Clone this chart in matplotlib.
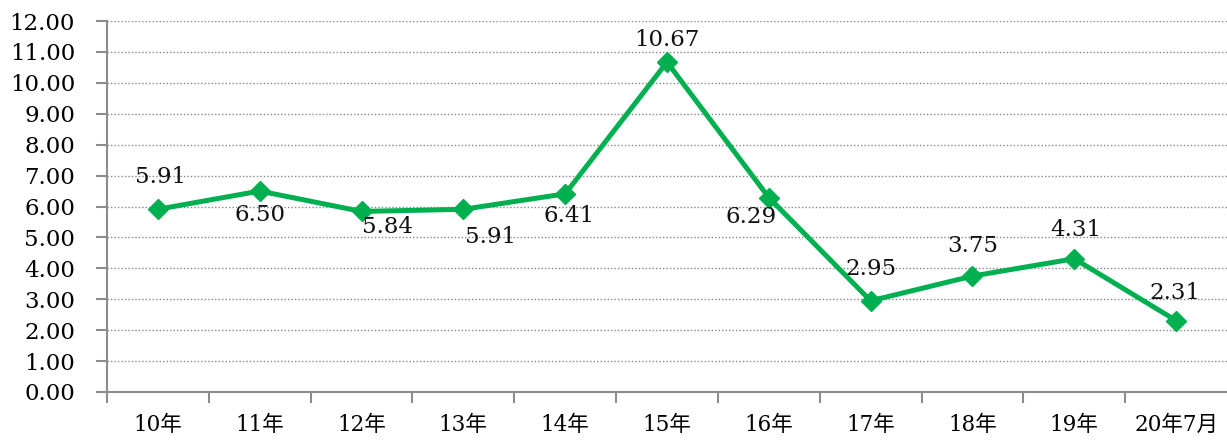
import matplotlib
matplotlib.use("Agg")
import matplotlib.pyplot as plt
from matplotlib.ticker import FixedLocator, FormatStrFormatter

categories = ["10年", "11年", "12年", "13年", "14年", "15年", "16年", "17年", "18年", "19年", "20年7月"]
values = [5.91, 6.50, 5.84, 5.91, 6.41, 10.67, 6.29, 2.95, 3.75, 4.31, 2.31]
# label offsets in pixels (dx, dy) relative to each point
label_offsets = [(3, 32), (0, -24), (26, -16), (27, -28), (4, -22), (0, 22), (-18, -19), (0, 32), (0, 30), (1, 29), (-1, 28)]

plt.rcParams["font.family"] = ["DejaVu Serif", "Noto Sans CJK JP"]
green = "#00B050"
axis_gray = "#8c8c8c"

fig = plt.figure(figsize=(12.27, 4.42), dpi=100)
ax = fig.add_axes([107 / 1227, 1 - 392 / 442, 1120 / 1227, 371 / 442])

x = list(range(len(categories)))
ax.plot(x, values, color=green, lw=3.6, marker="D", markersize=10.5, zorder=3)

for xi, val, (dx, dy) in zip(x, values, label_offsets):
    ax.annotate(f"{val:.2f}", (xi, val), xytext=(dx, dy), textcoords="offset pixels",
                ha="center", va="center", fontsize=16.5, color="#111111")

ax.set_xlim(-0.5, len(categories) - 0.5)
ax.set_ylim(0, 12)
ax.set_yticks(range(0, 13))
ax.yaxis.set_major_formatter(FormatStrFormatter("%.2f"))
ax.grid(axis="y", linestyle=(0, (1, 1.5)), color="#888888", lw=1)
ax.set_axisbelow(True)

ax.set_xticks(x)
ax.set_xticklabels(categories)
ax.xaxis.set_minor_locator(FixedLocator([i - 0.5 for i in range(len(categories))]))
ax.tick_params(axis="x", which="major", length=0, pad=16, labelsize=15.5)
ax.tick_params(axis="x", which="minor", length=8, width=1.5, color=axis_gray)
ax.tick_params(axis="y", length=8, width=1.5, color=axis_gray, labelsize=16.5, pad=15)

for side in ["top", "right"]:
    ax.spines[side].set_visible(False)
for side in ["left", "bottom"]:
    ax.spines[side].set_color(axis_gray)
    ax.spines[side].set_linewidth(1.5)

fig.savefig("out.png", dpi=100)
